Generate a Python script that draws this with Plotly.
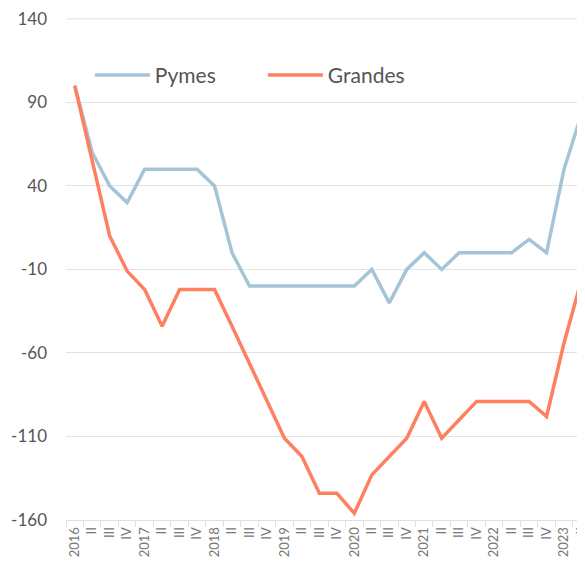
import plotly.graph_objects as go

years = ["2016", "2017", "2018", "2019", "2020", "2021", "2022", "2023"]
quarter_labels = ["", "II", "III", "IV"]
n_periods = 30
categories = []
for y in years:
    for q in quarter_labels:
        categories.append(y if q == "" else q)
categories = categories[:n_periods]
x_idx = list(range(n_periods))

pymes = [100, 60, 40, 30, 50, 50, 50, 50, 40, 0,
         -20, -20, -20, -20, -20, -20, -20, -10, -30, -10,
         0, -10, 0, 0, 0, 0, 8, 0, 50, 83]
grandes = [100, 55, 10, -11, -22, -44, -22, -22, -22, -44,
           -66, -89, -111, -122, -144, -144, -156, -133, -122, -111,
           -89, -111, -100, -89, -89, -89, -89, -98, -54, -16]

y_ticks = [140, 90, 40, -10, -60, -110, -160]
y_max = max(y_ticks)

fig = go.Figure()
fig.add_trace(go.Scatter(x=x_idx, y=pymes, mode="lines", name="Pymes",
                         line=dict(color="#a5c5d6", width=3.5)))
fig.add_trace(go.Scatter(x=x_idx, y=grandes, mode="lines", name="Grandes",
                         line=dict(color="#ff7f61", width=3.5)))

# top gridline (plotly omits the grid line at the very edge of the range)
fig.add_shape(type="line", xref="paper", x0=0, x1=1, yref="y", y0=y_max, y1=y_max,
              line=dict(color="#e3e3e3", width=1), layer="below")

font_family = "Lato, 'Open Sans', sans-serif"
fig.update_layout(
    width=577, height=557,
    margin=dict(l=58, r=0, t=10, b=45),
    paper_bgcolor="white", plot_bgcolor="white",
    font=dict(family=font_family, color="#555555"),
    showlegend=True,
    legend=dict(orientation="h", x=0.046, y=0.886, xanchor="left", yanchor="middle",
                font=dict(size=21, color="#555555"), bgcolor="rgba(0,0,0,0)",
                itemwidth=55, entrywidth=103),
    xaxis=dict(
        range=[-0.5, 29.2], automargin=False,
        tickmode="array", tickvals=x_idx, ticktext=categories,
        tickangle=-90, tickfont=dict(size=13, color="#777777"),
        showgrid=False, zeroline=False,
        showline=True, linecolor="#e0e0e0", linewidth=1,
        ticks="", ticklabelstandoff=1, ticklabeloverflow="allow",
        minor=dict(tickmode="linear", tick0=-0.5, dtick=1, ticks="outside",
                   ticklen=6, tickcolor="#e0e0e0", showgrid=False),
        fixedrange=True,
    ),
    yaxis=dict(
        range=[-160, 140.5], automargin=False,
        tickmode="array", tickvals=y_ticks, ticktext=[str(v) for v in y_ticks],
        tickfont=dict(size=17, color="#555555"),
        showgrid=True, gridcolor="#e3e3e3", gridwidth=1,
        zeroline=False, showline=False, ticks="", ticklabelstandoff=18,
        ticklabeloverflow="allow",
    ),
)
fig.write_html("out.html")
